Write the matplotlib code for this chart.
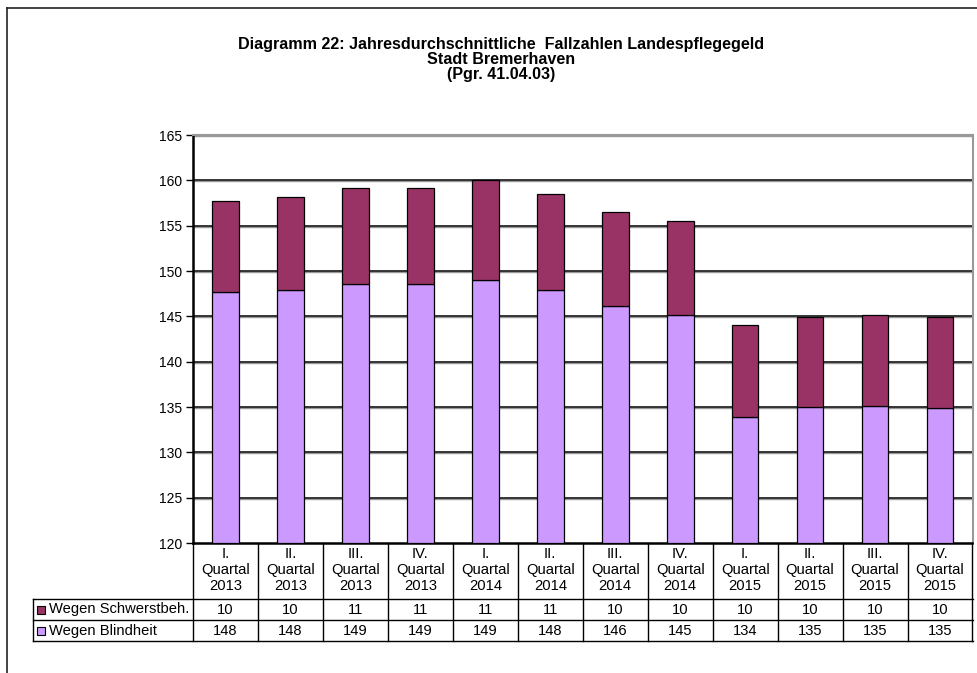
import numpy as np
import matplotlib
matplotlib.use('Agg')
import matplotlib.pyplot as plt
from matplotlib.transforms import blended_transform_factory
from matplotlib.patches import Rectangle

plt.rcParams['font.family'] = ['Liberation Sans', 'DejaVu Sans']

quarters = ['I.', 'II.', 'III.', 'IV.'] * 3
years = ['2013'] * 4 + ['2014'] * 4 + ['2015'] * 4
blindheit = [147.65, 147.9, 148.6, 148.6, 149.0, 147.9, 146.15, 145.2, 133.9, 135.0, 135.15, 134.85]
schwerst = [10.05, 10.3, 10.55, 10.6, 11.0, 10.6, 10.35, 10.35, 10.1, 9.95, 10.05, 10.1]
series_names = ['Wegen Schwerstbeh.', 'Wegen Blindheit']
col_blind = '#CC99FF'
col_schw = '#993366'

W, H = 977, 673
fig = plt.figure(figsize=(W / 100, H / 100), dpi=100)

def fy(py):
    return 1 - py / H

def fx(px):
    return px / W

# outer frame
fig.add_artist(plt.Line2D([fx(6.5), fx(6.5)], [fy(8), 0], transform=fig.transFigure, color='#222222', lw=1.2))
fig.add_artist(plt.Line2D([fx(6.5), 1], [fy(8), fy(8)], transform=fig.transFigure, color='#222222', lw=1.2))

ax = fig.add_axes([fx(193), fy(543), fx(972.5) - fx(193), fy(135) - fy(543)])
x = np.arange(len(blindheit))
ax.set_xlim(-0.5, len(x) - 0.5)
ax.set_ylim(120, 165)

for yv in range(125, 166, 5):
    ax.axhline(yv - 0.1, color='#999999', lw=1.0, zorder=1)
    ax.axhline(yv, color='black', lw=1.1, zorder=1.1)

bw = 0.41
ax.bar(x, np.array(blindheit) - 120, bottom=120, width=bw, color=col_blind, edgecolor='black', lw=0.9, zorder=3)
ax.bar(x, schwerst, bottom=blindheit, width=bw, color=col_schw, edgecolor='black', lw=0.9, zorder=3)

ax.set_yticks(range(120, 166, 5))
ax.tick_params(axis='y', direction='out', length=5, width=1, labelsize=10, pad=3)
ax.tick_params(axis='x', bottom=False, labelbottom=False)
ax.spines['left'].set_linewidth(1.8)
ax.spines['bottom'].set_linewidth(1.8)
ax.spines['top'].set_color('#999999')
ax.spines['right'].set_color('#999999')
ax.spines['top'].set_linewidth(1.5)
ax.spines['right'].set_linewidth(1.5)

# title
title_lines = ['Diagramm 22: Jahresdurchschnittliche  Fallzahlen Landespflegegeld',
               'Stadt Bremerhaven', '(Pgr. 41.04.03)']
for i, t in enumerate(title_lines):
    fig.text(fx(501), fy(44 + i * 15), t, ha='center', va='center', fontsize=11.6, fontweight='bold')

# data table below the axis
tr = blended_transform_factory(ax.transData, fig.transFigure)
y_top, y_r1, y_r2, y_bot = 543, 598.7, 620.3, 641.3
left_px = 33
for i in range(len(x) + 1):
    fig.add_artist(plt.Line2D([i - 0.5, i - 0.5], [fy(y_top), fy(y_bot)], transform=tr, color='black', lw=1))
for yy in (y_r1, y_r2, y_bot):
    fig.add_artist(plt.Line2D([fx(left_px), fx(972.5)], [fy(yy), fy(yy)],
                              transform=fig.transFigure, color='black', lw=1))
fig.add_artist(plt.Line2D([fx(left_px), fx(left_px)], [fy(y_r1), fy(y_bot)], transform=fig.transFigure, color='black', lw=1))

fs = 10.6
for i in range(len(x)):
    for j, t in enumerate([quarters[i], 'Quartal', years[i]]):
        fig.text(i, fy(553.5 + j * 16.5), t, transform=tr, ha='center', va='center', fontsize=fs)
    fig.text(i, fy(609.5), '%.0f' % schwerst[i], transform=tr, ha='center', va='center', fontsize=fs)
    fig.text(i, fy(631), '%.0f' % blindheit[i], transform=tr, ha='center', va='center', fontsize=fs)

for name, col, yc in [(series_names[0], col_schw, 609.5), (series_names[1], col_blind, 631)]:
    fig.add_artist(Rectangle((fx(37), fy(yc + 4)), fx(8), 8 / H, transform=fig.transFigure,
                             facecolor=col, edgecolor='black', lw=0.8))
    fig.text(fx(49), fy(yc), name, ha='left', va='center', fontsize=fs)

plt.savefig('out.png', dpi=100)
